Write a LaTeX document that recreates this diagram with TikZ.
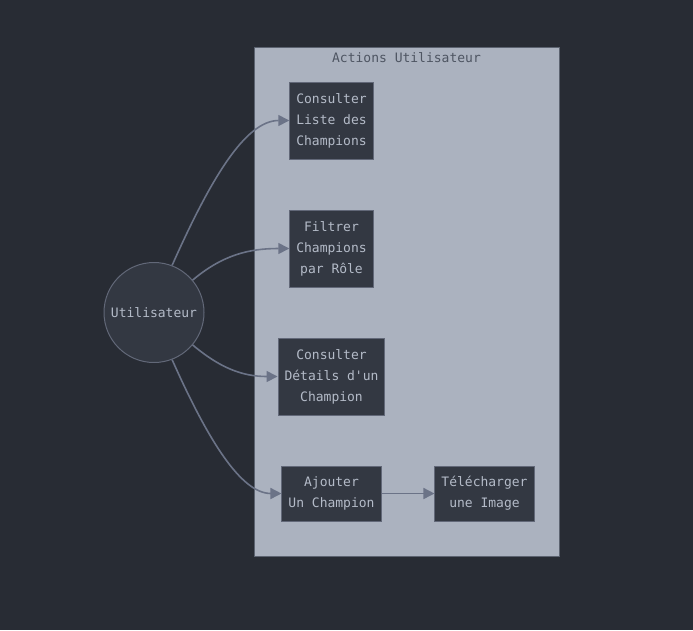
\documentclass[tikz,border=0pt]{standalone}
\usepackage{fontspec}
\setmonofont{DejaVu Sans Mono}
\usetikzlibrary{arrows.meta,positioning}
\definecolor{bgdark}{HTML}{282C34}
\definecolor{clusterfill}{HTML}{ABB2BF}
\definecolor{clusterline}{HTML}{5C6370}
\definecolor{clustertext}{HTML}{4E5562}
\definecolor{nodefill}{HTML}{333842}
\definecolor{nodeline}{HTML}{626878}
\definecolor{nodetext}{HTML}{B4BBC8}
\definecolor{linkline}{HTML}{6B7387}

\begin{document}
\begin{tikzpicture}[x=1pt,y=-1pt,
    every node/.style={font=\ttfamily\fontsize{13}{21}\selectfont}]
  \tikzstyle{action}=[draw=nodeline,fill=nodefill,text=nodetext,align=center,
    inner xsep=6.5pt,inner ysep=0pt,line width=1pt]
  \tikzstyle{link}=[draw=linkline,line width=1.6pt,-{Triangle[length=11pt,width=11pt]}]
  \useasboundingbox[fill=bgdark] (0,0) rectangle (693,630);

  % Cluster
  \node[draw=clusterline,fill=clusterfill,minimum width=305pt,minimum height=509pt,
    inner sep=0pt,line width=1pt] (actions) at (406.5,301.5) {};
  \node[text=clustertext] (actionstitle) at (406.5,57.5) {Actions Utilisateur};

  % Nodes
  \node[circle,draw=nodeline,fill=nodefill,text=nodetext,minimum size=100pt,
    inner sep=0pt,line width=1pt] (user) at (154,312.5) {Utilisateur};
  \node[action,minimum height=77pt] (liste) at (331.5,120.5) {Consulter\\Liste des\\Champions};
  \node[action,minimum height=77pt] (filtre) at (331.5,248.5) {Filtrer\\Champions\\par Rôle};
  \node[action,minimum height=77pt] (details) at (331.5,376.5) {Consulter\\Détails d'un\\Champion};
  \node[action,minimum height=55pt] (ajout) at (331.5,493.5) {Ajouter\\Un Champion};
  \node[action,minimum height=55pt] (image) at (484.5,493.5) {Télécharger\\une Image};

  % Links
  \path[link] (user.69) to[out=66,in=180,out looseness=1.3,in looseness=0.6] (liste.west);
  \path[link] (user.40) to[out=40,in=180] (filtre.west);
  \path[link] (user.-40) to[out=-40,in=180] (details.west);
  \path[link] (user.-69) to[out=-66,in=180,out looseness=1.3,in looseness=0.6] (ajout.west);
  \path[link] (ajout) -- (image);
\end{tikzpicture}
\end{document}
